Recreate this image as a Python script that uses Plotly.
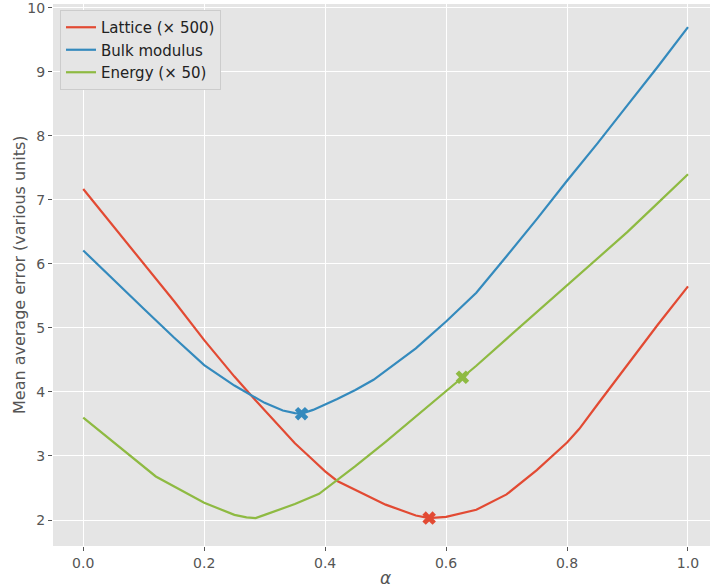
import plotly.graph_objects as go

# Lattice (x500)
lat_alpha = [0, 0.05, 0.1, 0.15, 0.2, 0.25, 0.28, 0.3, 0.35, 0.375, 0.4, 0.42, 0.45, 0.5,
             0.55, 0.572, 0.6, 0.65, 0.7, 0.75, 0.8, 0.82, 0.85, 0.9, 0.95, 1.0]
lat_vals = [7.17, 6.59, 6.01, 5.42, 4.81, 4.24, 3.92, 3.71, 3.20, 2.98, 2.76, 2.61, 2.47, 2.24,
            2.07, 2.03, 2.05, 2.16, 2.40, 2.78, 3.21, 3.42, 3.80, 4.43, 5.05, 5.65]

# Bulk modulus
bulk_alpha = [0, 0.05, 0.1, 0.15, 0.2, 0.25, 0.28, 0.3, 0.33, 0.35, 0.361, 0.38, 0.42, 0.45,
              0.48, 0.51, 0.55, 0.6, 0.65, 0.7, 0.75, 0.8, 0.85, 0.9, 0.95, 1.0]
bulk_vals = [6.21, 5.75, 5.30, 4.85, 4.42, 4.10, 3.93, 3.83, 3.71, 3.67, 3.66, 3.72, 3.89, 4.03,
             4.19, 4.40, 4.68, 5.10, 5.55, 6.12, 6.70, 7.30, 7.88, 8.48, 9.08, 9.70]

# Energy (x50)
en_alpha = [0, 0.05, 0.1, 0.12, 0.2, 0.25, 0.27, 0.285, 0.3, 0.35, 0.39, 0.42, 0.45, 0.5,
            0.55, 0.6, 0.627, 0.65, 0.7, 0.75, 0.8, 0.85, 0.9, 0.95, 1.0]
en_vals = [3.60, 3.22, 2.83, 2.68, 2.27, 2.08, 2.04, 2.03, 2.08, 2.25, 2.41, 2.62, 2.84, 3.22,
           3.62, 4.01, 4.23, 4.41, 4.83, 5.25, 5.67, 6.08, 6.50, 6.95, 7.40]

# Marked optimum points
opt_alpha = [0.572, 0.361, 0.627]
opt_vals = [2.03, 3.66, 4.23]

names = ["Lattice (× 500)", "Bulk modulus", "Energy (× 50)"]
colors = ["#E24A33", "#348ABD", "#8EBA42"]
series = [(lat_alpha, lat_vals), (bulk_alpha, bulk_vals), (en_alpha, en_vals)]

fig = go.Figure()
for (xa, ya), name, c in zip(series, names, colors):
    fig.add_trace(go.Scatter(x=xa, y=ya, mode="lines", name=name,
                             line=dict(color=c, width=2.2)))
for i, c in enumerate(colors):
    fig.add_trace(go.Scatter(x=[opt_alpha[i]], y=[opt_vals[i]], mode="markers",
                             showlegend=False,
                             marker=dict(symbol="x", size=12, color=c,
                                         line=dict(width=0))))

font = "DejaVu Sans"
L, T, B = 53, 4, 42
W, H = 710, 588
pw, ph = W - L, H - T - B
fig.update_layout(
    width=W, height=H,
    margin=dict(l=L, r=0, t=T, b=B, autoexpand=False),
    paper_bgcolor="white", plot_bgcolor="#E5E5E5",
    font=dict(family=font, size=14, color="#555555"),
    showlegend=True,
    legend=dict(x=7 / pw, y=1 - 6 / ph, xanchor="left", yanchor="top",
                bgcolor="#E5E5E5", bordercolor="#CCCCCC", borderwidth=1,
                font=dict(family=font, size=15, color="#222222"),
                tracegroupgap=0, itemwidth=30),
    xaxis=dict(range=[-0.05, 1.0364], tickvals=[0, 0.2, 0.4, 0.6, 0.8, 1.0],
               ticktext=["0.0", "0.2", "0.4", "0.6", "0.8", "1.0"],
               showgrid=True, gridcolor="white", gridwidth=1, zeroline=False,
               ticks="outside", ticklen=4, tickcolor="#555555", automargin=False,
               ticklabeloverflow="allow",
               tickfont=dict(size=14, color="#555555")),
    yaxis=dict(range=[1.594, 10.06], tickvals=list(range(2, 11)),
               showgrid=True, gridcolor="white", gridwidth=1, zeroline=False,
               ticks="outside", ticklen=4, tickcolor="#555555", automargin=False,
               ticklabeloverflow="allow",
               tickfont=dict(size=14, color="#555555")),
    annotations=[
        dict(text="<i>α</i>", xref="paper", yref="paper",
             x=(385.5 - L) / pw, y=0, yshift=-(578 - (H - B)),
             xanchor="center", yanchor="middle", showarrow=False,
             font=dict(family=font, size=17, color="#555555")),
        dict(text="Mean average error (various units)", xref="paper", yref="paper",
             x=0, xshift=-(L - 19), y=0.5, textangle=-90,
             xanchor="center", yanchor="middle", showarrow=False,
             font=dict(family=font, size=16, color="#555555")),
    ],
)
fig.write_html("out.html", config={"displayModeBar": False},
               post_script="document.body.style.margin='0';document.body.style.overflow='hidden';")
